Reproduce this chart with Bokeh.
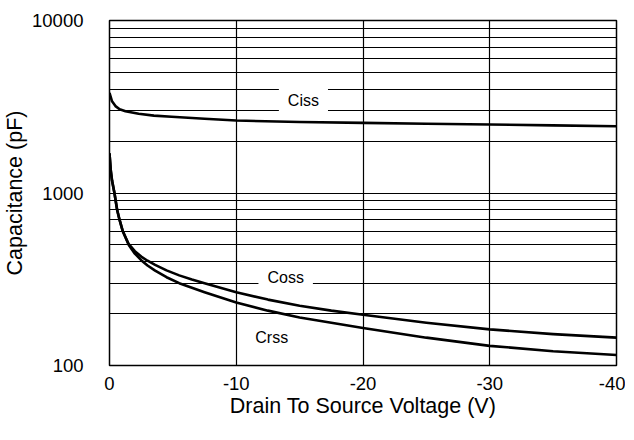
from bokeh.plotting import figure
from bokeh.models import Range1d, FixedTicker, Label, CustomJSTickFormatter
from bokeh.embed import file_html
from bokeh.resources import INLINE

# ---- data ----
ciss_v = [0, -0.2, -0.47, -0.8, -1.26, -2.3, -3.5, -4.9, -7.5, -10, -15, -20, -25, -30, -35, -40]
ciss_c = [3800, 3400, 3190, 3060, 2980, 2877, 2810, 2766, 2692, 2630, 2580, 2550, 2520, 2495, 2465, 2440]

oss_v = [0, -0.1, -0.2, -0.39, -0.6, -0.79, -1.05, -1.52, -2, -2.5, -3, -3.6, -4.5, -5.5,
         -6.5, -7.5, -10, -12.5, -15, -17.5, -20, -25, -30, -35, -40]
coss_c = [1700, 1350, 1180, 1000, 800, 700, 600, 505, 460, 428, 405, 383, 356, 333,
          315, 300, 266, 241, 222, 208, 197, 177, 162, 152, 145]
crss_c = [1700, 1350, 1180, 1000, 800, 700, 600, 500, 445, 408, 380, 355, 325, 300,
          282, 266, 232, 208, 190, 177, 165, 145, 130, 121, 115]

x_ticks = [0, -10, -20, -30, -40]
y_ticks = [100, 1000, 10000]
y_grid = [m * d for d in (100, 1000) for m in range(1, 10)] + [10000]

FONT = "Liberation Sans"

p = figure(width=625, height=424, output_backend="svg", toolbar_location=None,
           y_axis_type="log", x_range=Range1d(0, -40), y_range=Range1d(100, 10000),
           min_border_left=101, min_border_top=20, min_border_right=9, min_border_bottom=59)

p.outline_line_color = "black"
p.outline_line_width = 1.5
p.background_fill_color = "white"
p.border_fill_color = "white"

# grids
p.xgrid.ticker = FixedTicker(ticks=x_ticks)
p.ygrid.ticker = FixedTicker(ticks=y_grid)
for g in (p.xgrid[0], p.ygrid[0]):
    g.grid_line_color = "black"
    g.grid_line_width = 1.2
    g.grid_line_alpha = 1.0

# axes
p.xaxis.ticker = FixedTicker(ticks=x_ticks)
p.yaxis.ticker = FixedTicker(ticks=y_ticks)
p.xaxis.formatter = CustomJSTickFormatter(code="return tick.toFixed(0);")
p.yaxis.formatter = CustomJSTickFormatter(code="return tick.toFixed(0);")
for ax in (p.xaxis[0], p.yaxis[0]):
    ax.axis_line_color = None
    ax.major_tick_line_color = None
    ax.minor_tick_line_color = None
    ax.major_label_text_font = FONT
    ax.major_label_text_font_size = "18.5px"
    ax.major_label_text_color = "black"
    ax.axis_label_text_font = FONT
    ax.axis_label_text_font_size = "21.5px"
    ax.axis_label_text_font_style = "normal"
    ax.axis_label_text_color = "black"

p.xaxis.axis_label = "Drain To Source Voltage (V)"
p.yaxis.axis_label = "Capacitance (pF)"
p.xaxis.major_label_standoff = 5
p.yaxis.major_label_standoff = 20
p.xaxis.axis_label_standoff = 1
p.yaxis.axis_label_standoff = 2

# curves
p.line(ciss_v, ciss_c, line_color="black", line_width=2.6, line_join="round")
p.line(oss_v, coss_c, line_color="black", line_width=2.6, line_join="round")
p.line(oss_v, crss_c, line_color="black", line_width=2.6, line_join="round")

# labels
p.add_layout(Label(x=-15.3, y=3451, text="Ciss", text_align="center", text_baseline="middle",
                   text_font=FONT, text_font_size="16px", text_color="black",
                   background_fill_color="white",
                   padding=dict(left=9, right=9, top=7, bottom=7)))
p.add_layout(Label(x=-13.9, y=324, text="Coss", text_align="center", text_baseline="middle",
                   text_font=FONT, text_font_size="16px", text_color="black",
                   background_fill_color="white",
                   padding=dict(left=9, right=9, top=4, bottom=4)))
p.add_layout(Label(x=-12.8, y=145, text="Crss", text_align="center", text_baseline="middle",
                   text_font=FONT, text_font_size="16px", text_color="black"))

open("out.html", "w").write(file_html(p, INLINE))
